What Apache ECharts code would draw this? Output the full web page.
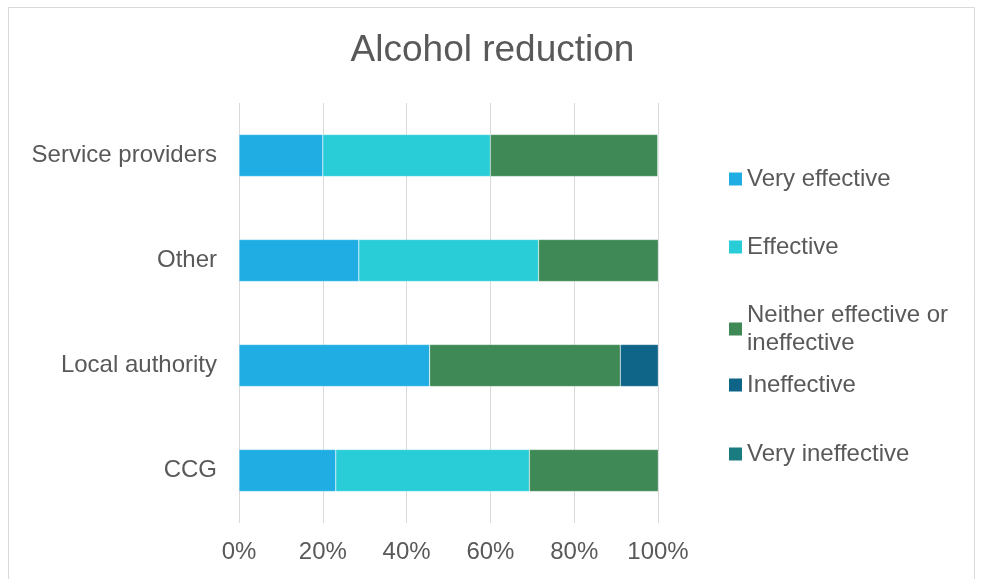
<!DOCTYPE html>
<html><head><meta charset="utf-8">
<script src="https://cdn.jsdelivr.net/npm/echarts@6/dist/echarts.min.js"></script>
<style>html,body{margin:0;padding:0;background:#fff}#c{width:985px;height:579px}</style>
</head><body><div id="c"></div>
<script>
const categories = ['CCG', 'Local authority', 'Other', 'Service providers'];
const seriesNames = ['Very effective', 'Effective', 'Neither effective or ineffective', 'Ineffective', 'Very ineffective'];
const veryEffective = [23.1, 45.5, 28.6, 20];
const effective = [46.2, 0, 42.9, 40];
const neither = [30.8, 45.5, 28.6, 40];
const ineffective = [0, 9.1, 0, 0];
const veryIneffective = [0, 0, 0, 0];
const xTicks = ['0%', '20%', '40%', '60%', '80%', '100%'];

const values = [veryEffective, effective, neither, ineffective, veryIneffective];
const colors = ['#1fade3', '#29cdd8', '#3e8955', '#0f6588', '#1a7b80'];
const legendTops = [179, 247, 329, 385, 454];
const font = 'Liberation Sans, Arial, sans-serif';

const chart = echarts.init(document.getElementById('c'));
chart.setOption({
  animation: false,
  textStyle: {fontFamily: font},
  title: {text: 'Alcohol reduction', left: 'center', top: 27,
    textStyle: {fontFamily: font, fontSize: 37, fontWeight: 'normal', color: '#595959'}},
  graphic: [{type: 'rect', shape: {x: 8.5, y: 7.5, width: 966, height: 620},
    style: {fill: 'none', stroke: '#d9d9d9', lineWidth: 1}, silent: true}],
  legend: seriesNames.map((n, i) => ({
    data: [n], orient: 'vertical', left: 729, top: legendTops[i] - (i === 2 ? 28 : 14),
    padding: 0, icon: 'rect', itemWidth: 13, itemHeight: 13, itemGap: 0, itemStyle: {borderWidth: 0},
    formatter: nm => nm === 'Neither effective or ineffective' ? 'Neither effective or\nineffective' : nm,
    textStyle: {fontFamily: font, fontSize: 24, color: '#595959', lineHeight: 28}
  })),
  grid: {left: 239, right: 327, top: 103, bottom: 56, containLabel: false},
  xAxis: {type: 'value', min: 0, max: 100, interval: 20,
    axisLabel: {formatter: v => xTicks[v / 20], fontSize: 24, color: '#595959', margin: 17, fontFamily: font},
    axisLine: {show: false}, axisTick: {show: false},
    splitLine: {show: true, lineStyle: {color: '#d9d9d9', width: 1}}},
  yAxis: {type: 'category', data: categories,
    axisLabel: {fontSize: 24, color: '#595959', margin: 22, fontFamily: font},
    axisLine: {show: false}, axisTick: {show: false}},
  series: seriesNames.map((n, i) => ({
    name: n, type: 'bar', stack: 'total', data: values[i], barWidth: '40%',
    itemStyle: {color: colors[i], borderColor: 'rgba(255,255,255,0.5)', borderWidth: 0.5}
  }))
});
</script></body></html>
